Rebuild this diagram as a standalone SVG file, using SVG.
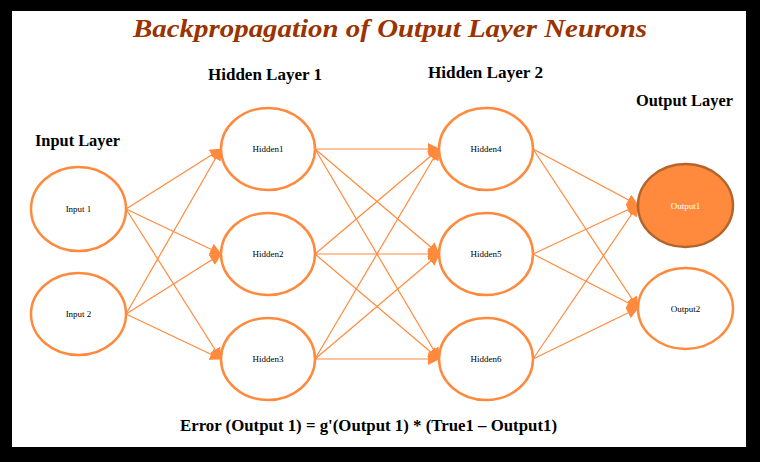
<svg xmlns="http://www.w3.org/2000/svg" width="760" height="462" viewBox="0 0 760 462">
<style>
.node{fill:#fff;stroke:#FF8A3D;stroke-width:2.5}
.out1{fill:#FF8A3D;stroke:#B5652C;stroke-width:2.5}
.nl{font-family:"Liberation Serif",serif;font-size:9px;fill:#000;text-anchor:middle}
.hd{font-family:"Liberation Serif",serif;font-size:16px;font-weight:bold;fill:#000}
.edge{stroke:#FF8A3D;stroke-width:1.2;fill:none;marker-end:url(#ah)}
</style>
<defs>
<marker id="ah" markerUnits="userSpaceOnUse" markerWidth="12" markerHeight="12" viewBox="0 0 12 12" refX="11" refY="6" orient="auto">
<path d="M0,0 L12,6 L0,12 Z" fill="#FF8A3D"/>
</marker>
</defs>
<rect x="0" y="0" width="760" height="462" fill="#000"/>
<rect x="12" y="11" width="734" height="436" fill="#fff"/>
<text x="390" y="37" font-family="Liberation Serif,serif" font-size="26" font-weight="bold" font-style="italic" fill="#993300" text-anchor="middle" textLength="514" lengthAdjust="spacingAndGlyphs">Backpropagation of Output Layer Neurons</text>
<text class="hd" x="208" y="80" textLength="114" lengthAdjust="spacingAndGlyphs">Hidden Layer 1</text>
<text class="hd" x="428" y="78" textLength="115" lengthAdjust="spacingAndGlyphs">Hidden Layer 2</text>
<text class="hd" x="35" y="146" textLength="85" lengthAdjust="spacingAndGlyphs">Input Layer</text>
<text class="hd" x="636" y="106" textLength="97" lengthAdjust="spacingAndGlyphs">Output Layer</text>
<text class="hd" x="180" y="431" textLength="377" lengthAdjust="spacingAndGlyphs">Error (Output 1) = g'(Output 1) * (True1 – Output1)</text>
<g id="connectors">
<line class="edge" x1="126" y1="209" x2="221" y2="149"/>
<line class="edge" x1="126" y1="209" x2="221" y2="254"/>
<line class="edge" x1="126" y1="209" x2="221" y2="359"/>
<line class="edge" x1="126" y1="314" x2="221" y2="149"/>
<line class="edge" x1="126" y1="314" x2="221" y2="254"/>
<line class="edge" x1="126" y1="314" x2="221" y2="359"/>
<line class="edge" x1="315" y1="149" x2="439" y2="149"/>
<line class="edge" x1="315" y1="149" x2="439" y2="254"/>
<line class="edge" x1="315" y1="149" x2="439" y2="359"/>
<line class="edge" x1="315" y1="254" x2="439" y2="149"/>
<line class="edge" x1="315" y1="254" x2="439" y2="254"/>
<line class="edge" x1="315" y1="254" x2="439" y2="359"/>
<line class="edge" x1="315" y1="359" x2="439" y2="149"/>
<line class="edge" x1="315" y1="359" x2="439" y2="254"/>
<line class="edge" x1="315" y1="359" x2="439" y2="359"/>
<line class="edge" x1="533" y1="149" x2="638" y2="205"/>
<line class="edge" x1="533" y1="149" x2="638" y2="308"/>
<line class="edge" x1="533" y1="254" x2="638" y2="205"/>
<line class="edge" x1="533" y1="254" x2="638" y2="308"/>
<line class="edge" x1="533" y1="359" x2="638" y2="205"/>
<line class="edge" x1="533" y1="359" x2="638" y2="308"/>
</g>
<g id="input1"><ellipse class="node" cx="78.5" cy="209" rx="47.5" ry="42"/><text class="nl" x="78.5" y="212">Input 1</text></g>
<g id="input2"><ellipse class="node" cx="78.5" cy="314" rx="47.5" ry="41"/><text class="nl" x="78.5" y="317">Input 2</text></g>
<g id="hidden1"><ellipse class="node" cx="268" cy="149" rx="47" ry="41"/><text class="nl" x="268" y="152">Hidden1</text></g>
<g id="hidden2"><ellipse class="node" cx="268" cy="254" rx="47" ry="41"/><text class="nl" x="268" y="257">Hidden2</text></g>
<g id="hidden3"><ellipse class="node" cx="268" cy="359" rx="47" ry="41"/><text class="nl" x="268" y="362">Hidden3</text></g>
<g id="hidden4"><ellipse class="node" cx="486" cy="149" rx="47" ry="41"/><text class="nl" x="486" y="152">Hidden4</text></g>
<g id="hidden5"><ellipse class="node" cx="486" cy="254" rx="47" ry="41"/><text class="nl" x="486" y="257">Hidden5</text></g>
<g id="hidden6"><ellipse class="node" cx="486" cy="359" rx="47" ry="41"/><text class="nl" x="486" y="362">Hidden6</text></g>
<g id="output1"><ellipse class="out1" cx="685.5" cy="205.5" rx="47.5" ry="41.5"/><text class="nl" x="685.5" y="208.5" fill="#fff" style="fill:#fff">Output1</text></g>
<g id="output2"><ellipse class="node" cx="685.5" cy="308.5" rx="47.5" ry="40.5"/><text class="nl" x="685.5" y="311.5">Output2</text></g>
</svg>
